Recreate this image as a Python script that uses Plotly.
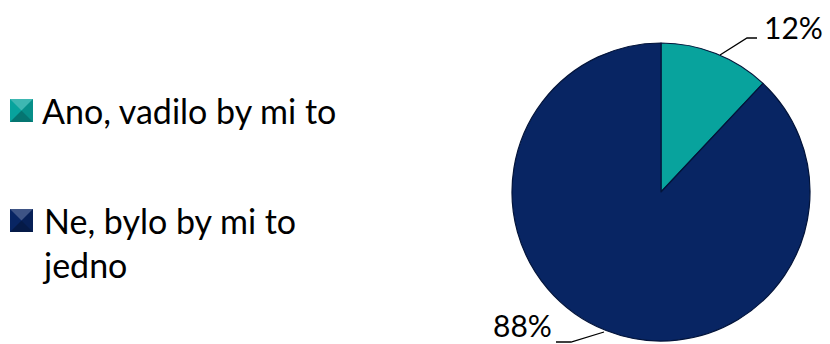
import plotly.graph_objects as go

# Survey answers and their shares (percent)
categories = ["Ano, vadilo by mi to", "Ne, bylo by mi to jedno"]
legend_texts = ["Ano, vadilo by mi to", "Ne, bylo by mi to<br>jedno"]
shares = [12, 88]
colors = ["#08A39D", "#082563"]

W, H = 830, 344
FONT = "Lato, 'Open Sans', sans-serif"

# Pie box (paper coordinates)
cx, cy, r = 661, 192, 149
dom_x = [(cx - r) / W, (cx + r) / W]
dom_y = [(H - cy - r) / H, (H - cy + r) / H]

fig = go.Figure()

fig.add_trace(go.Pie(
    labels=categories,
    values=shares,
    sort=False,
    direction="clockwise",
    rotation=0,
    textinfo="none",
    hoverinfo="label+percent",
    showlegend=False,
    marker=dict(colors=colors, line=dict(color="#03143a", width=1.2)),
    domain=dict(x=dom_x, y=dom_y),
))

def px(x):
    return x / W

def py(y):
    return 1 - y / H

shapes = []
annotations = []

# Percentage labels with leader lines
label_specs = [
    # (text x, text y, leader points)
    (762, 27, [(720, 55), (747, 38), (757, 38)]),
    (491, 325, [(604, 332), (571, 342), (556, 342)]),
]
for value, (tx, ty, pts) in zip(shares, label_specs):
    annotations.append(dict(
        x=px(tx), y=py(ty), xref="paper", yref="paper",
        text=f"{value}%", showarrow=False, xanchor="left", yanchor="middle",
        font=dict(family=FONT, size=30, color="#000000"),
    ))
    path = "M " + " L ".join(f"{px(x)} {py(y)}" for x, y in pts)
    shapes.append(dict(type="path", path=path, xref="paper", yref="paper",
                       line=dict(color="#000000", width=1.3)))

# Legend: bevelled squares with labels
legend_rows = [99, 209]
for color, txt, top in zip(colors, legend_texts, legend_rows):
    x0, x1, y0, y1 = 10, 33, top, top + 23
    mx, my = (x0 + x1) / 2, (y0 + y1) / 2
    shapes.append(dict(type="rect", xref="paper", yref="paper",
                       x0=px(x0), x1=px(x1), y0=py(y1), y1=py(y0),
                       fillcolor=color, line=dict(width=0)))
    # pyramid shading: lighter top facet, darker bottom/right facets
    facets = [
        ([(x0, y0), (x1, y0), (mx, my)], "rgba(255,255,255,0.22)"),
        ([(x0, y1), (x1, y1), (mx, my)], "rgba(0,0,0,0.28)"),
        ([(x1, y0), (x1, y1), (mx, my)], "rgba(0,0,0,0.12)"),
    ]
    for pts, fc in facets:
        path = "M " + " L ".join(f"{px(x)} {py(y)}" for x, y in pts) + " Z"
        shapes.append(dict(type="path", path=path, xref="paper", yref="paper",
                           fillcolor=fc, line=dict(width=0)))
    annotations.append(dict(
        x=px(40), y=py(top - 11), xref="paper", yref="paper",
        text=txt, showarrow=False, xanchor="left", yanchor="top", align="left",
        font=dict(family=FONT, size=34, color="#000000"),
    ))

fig.update_layout(
    width=W, height=H,
    margin=dict(l=0, r=0, t=0, b=0),
    paper_bgcolor="#ffffff",
    plot_bgcolor="#ffffff",
    shapes=shapes,
    annotations=annotations,
)

fig.write_html("out.html")
